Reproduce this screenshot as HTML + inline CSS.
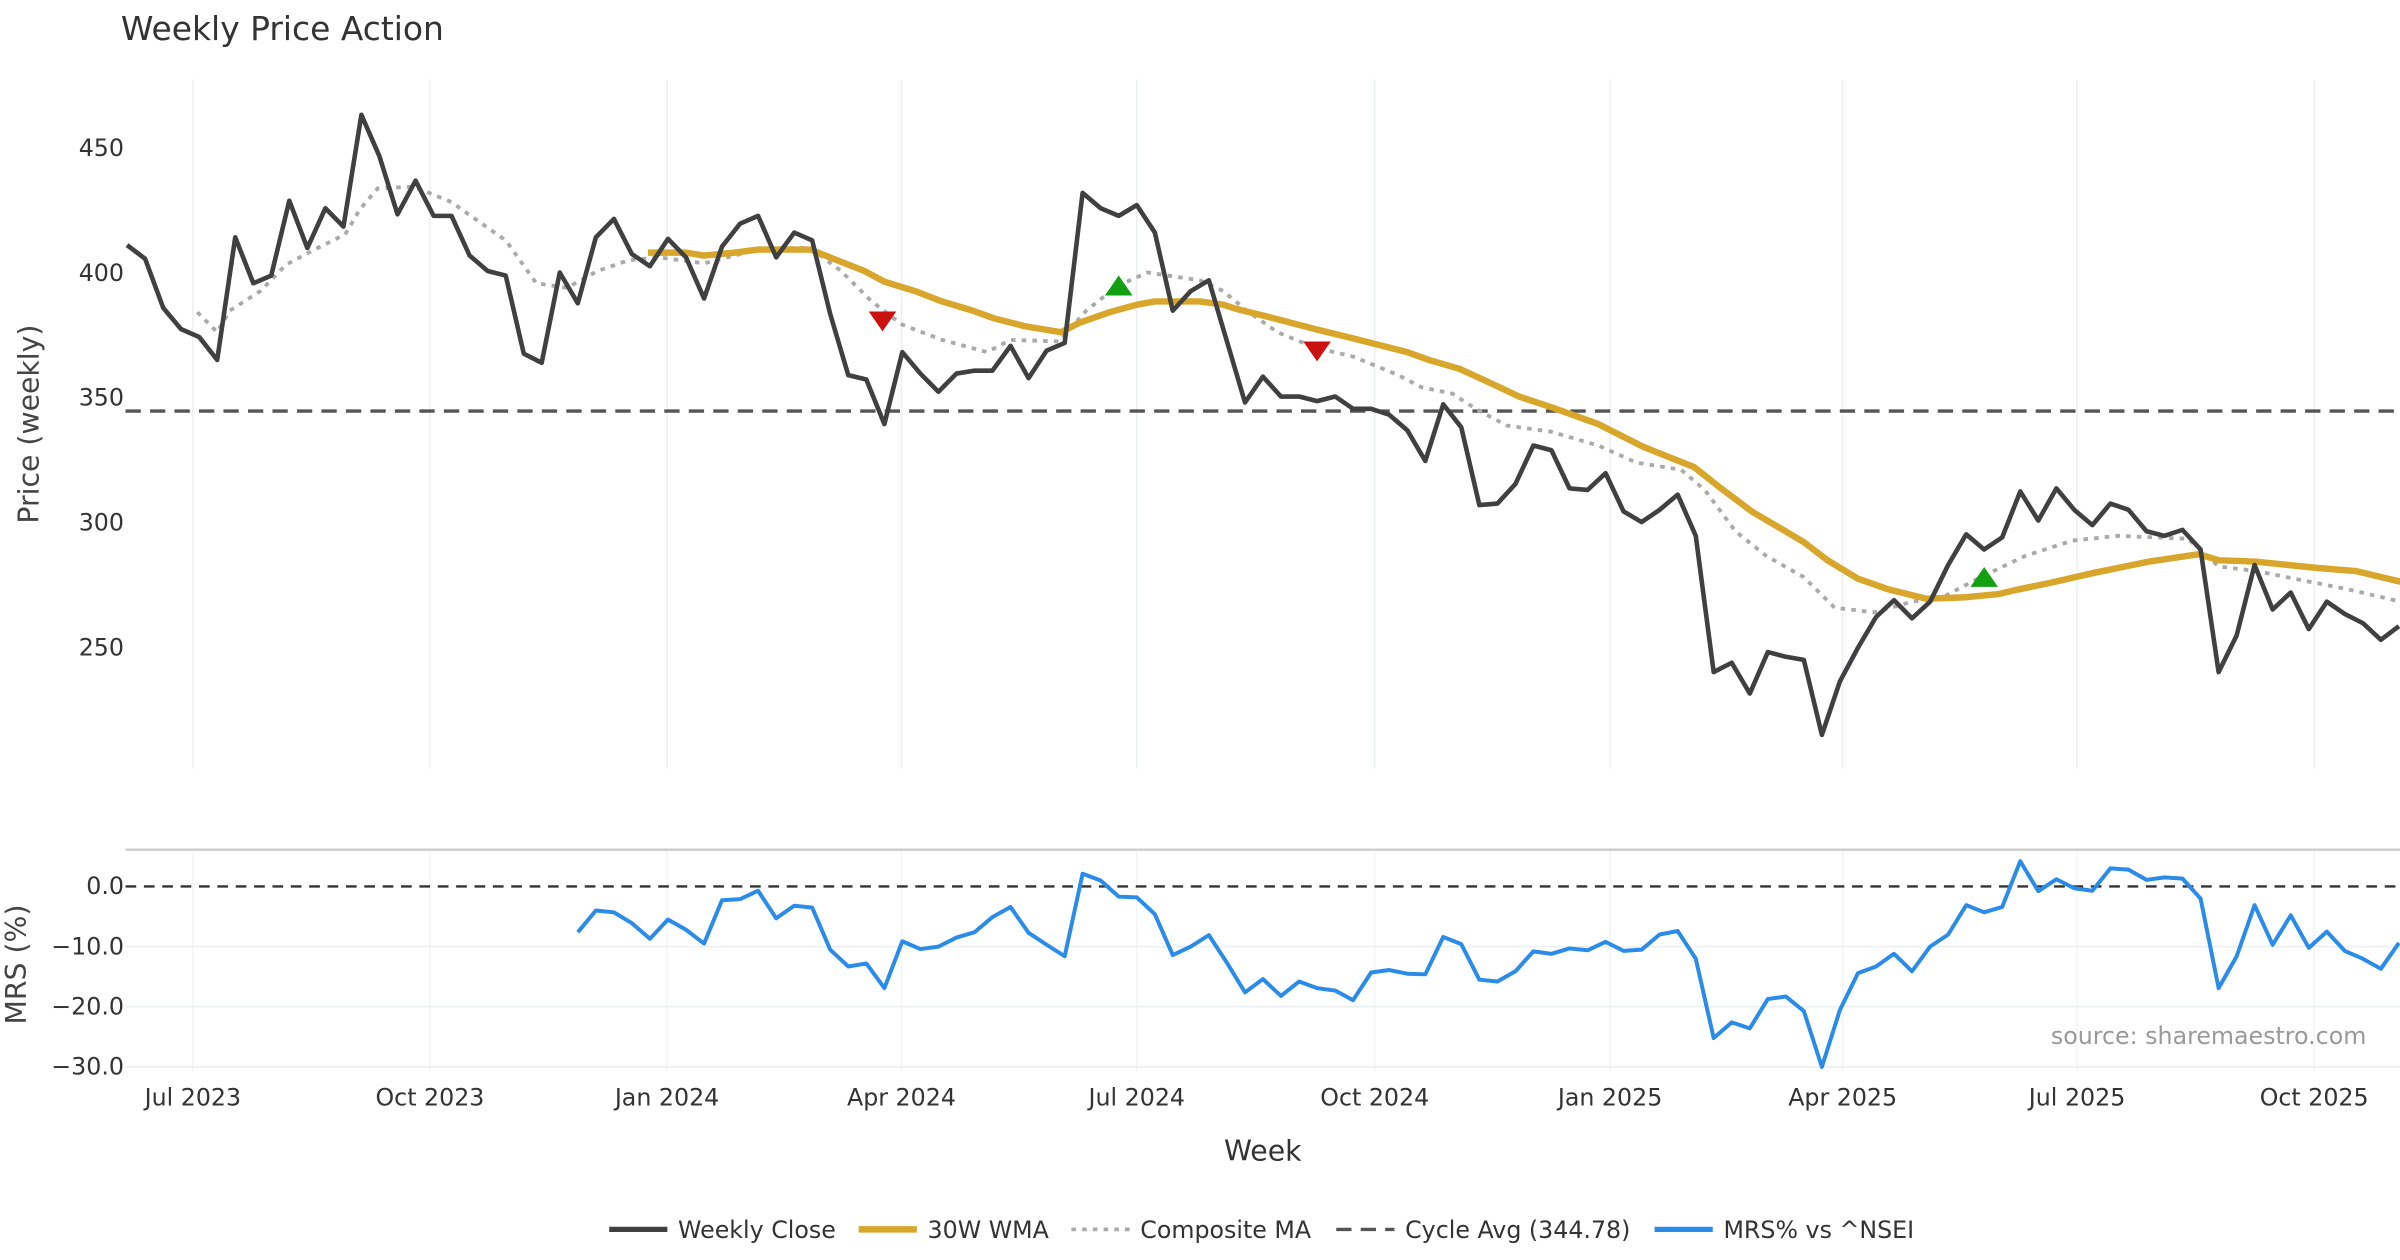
<!DOCTYPE html>
<html><head><meta charset="utf-8"><style>
html,body{margin:0;padding:0;background:#fff;}
svg{display:block;font-family:"DejaVu Sans","Liberation Sans",sans-serif;}
</style></head><body>
<svg id="chart" width="2400" height="1260" viewBox="0 0 1568 823" preserveAspectRatio="none" xmlns="http://www.w3.org/2000/svg">
<text x="79" y="26" font-size="21.5" fill="#333">Weekly Price Action</text>
<g id="grid"></g>
<g id="series"></g>
<text transform="translate(25,277) rotate(-90)" text-anchor="middle" font-size="18.5" fill="#444">Price (weekly)</text>
<text transform="translate(17,630) rotate(-90)" text-anchor="middle" font-size="18.5" fill="#444">MRS (%)</text>
<text x="825" y="758" text-anchor="middle" font-size="18.5" fill="#333">Week</text>
<text x="1546" y="682" text-anchor="end" font-size="15.5" fill="#999">source: sharemaestro.com</text>
<g id="legend"></g>
</svg>
<script>
// ---- data ----
const xTickLabels = ["Jul 2023","Oct 2023","Jan 2024","Apr 2024","Jul 2024","Oct 2024","Jan 2025","Apr 2025","Jul 2025","Oct 2025"];
const xTickWeeks = [3.65,16.8,29.95,42.95,56.0,69.2,82.25,95.15,108.15,121.3];
const priceTicks = [250,300,350,400,450];
const mrsTicks = [0,-10,-20,-30];
const cycleAvg = 344.78;
const weeklyClose = [411.3,405.8,386.2,377.6,374.5,365.3,414.4,396,399.1,429.1,410.1,426.1,418.7,463.5,446.9,423.6,437.1,423,423,407.1,400.9,399.1,367.8,364.1,400.3,388,414.4,421.8,407.7,402.8,413.8,406.4,389.9,410.7,419.9,423,406.4,416.3,413.2,383.7,359.2,357.4,339.6,368.4,359.8,352.5,359.8,361,361,370.9,358,369,372.1,432.2,426.1,423,427.3,416.3,385,392.9,397.2,372.7,348.2,358.6,350.6,350.6,348.8,350.6,345.7,345.7,343.3,337.1,324.8,347.5,338.3,307.1,307.7,315.6,331,329.1,313.8,313.2,319.9,304.6,300.3,305.2,311.3,294.8,240.2,243.9,231.6,248.2,246.3,245.1,215,236.5,250,262.3,269,261.7,268.4,283.1,295.4,289.3,294.2,312.6,300.9,313.8,305.2,299.1,307.7,305.2,296.6,294.8,297.2,289.3,240.2,254.9,283.1,265.3,272.1,257.4,268.4,263.5,259.8,253.1,258.6];
const wmaWeeks = [28.9,31.0,32.0,33.7,35.0,37.9,39.6,40.9,42.0,43.7,45.2,46.9,48.1,49.8,51.8,52.8,54.5,56.0,57.0,59.5,60.8,61.6,63.3,65.9,68.0,71.0,72.2,73.9,75.6,77.2,79.0,81.6,84.1,86.9,88.4,90.1,93.0,94.3,96.0,97.7,99.8,102.0,103.8,104.9,106.6,109.2,112.1,114.9,116.0,118.1,121.5,123.6,126.1];
const wmaValues = [408.3,408.3,407.1,408.3,409.5,409.5,404.6,400.9,396.6,392.9,388.7,385.0,381.9,378.8,376.4,380.1,384.4,387.4,388.7,388.7,387.4,385.6,382.5,377.6,373.9,368.4,365.3,361.7,356.1,350.6,346.3,339.6,330.4,322.4,313.8,304.6,292.3,285.0,277.6,273.3,269.6,270.2,271.5,273.3,275.8,280.1,284.4,287.4,285.0,284.4,281.9,280.7,276.4];
const compWeeks = [3.9,5.0,5.7,7.4,8.8,10.4,12.1,12.9,13.9,15.9,18.0,19.3,21.0,22.7,24.4,26.1,27.8,29.5,32.0,33.7,35.4,37.9,39.6,41.3,43.0,45.2,47.7,49.0,51.7,53.2,54.9,56.6,59.5,60.8,62.1,63.8,65.9,68.0,70.5,71.8,73.5,74.8,76.5,79.0,81.6,83.7,86.2,87.5,89.2,90.9,93.0,94.7,96.9,99.0,100.7,102.8,105.3,107.9,110.4,114.3,116.0,118.1,120.2,123.2,126.1];
const compValues = [384.4,376.4,385.0,392.9,403.4,409.5,415.6,425.5,434.0,434.7,428.5,421.8,413.2,396.0,394.2,400.9,405.2,406.4,404.0,407.1,410.1,410.1,400.9,388.7,379.4,373.3,368.4,373.3,372.7,385.0,394.8,400.3,397.2,392.9,385.0,376.4,370.2,366.6,359.2,354.3,351.8,345.7,339.0,336.5,331.0,324.2,321.2,313.2,296.6,286.8,278.2,266.0,264.1,268.4,270.2,278.2,286.8,292.9,294.8,293.6,282.5,280.7,277.6,273.3,268.4];
const sellWeeks = [41.9,66.0];
const sellValues = [381,369];
const buyWeeks = [55.0,103.0];
const buyValues = [394.8,278];
const mrsStart = 25;
const mrsValues = [-7.6,-4.0,-4.3,-6.1,-8.7,-5.5,-7.2,-9.5,-2.3,-2.1,-0.7,-5.3,-3.2,-3.5,-10.5,-13.3,-12.8,-16.9,-9.1,-10.4,-10.0,-8.5,-7.6,-5.1,-3.4,-7.7,-9.7,-11.6,2.1,1.0,-1.7,-1.8,-4.6,-11.4,-10.0,-8.1,-12.7,-17.6,-15.4,-18.2,-15.8,-16.9,-17.3,-18.9,-14.3,-13.9,-14.5,-14.6,-8.4,-9.6,-15.5,-15.8,-14.1,-10.8,-11.2,-10.3,-10.6,-9.2,-10.7,-10.5,-8.0,-7.4,-12.0,-25.2,-22.6,-23.6,-18.7,-18.3,-20.7,-30.0,-20.5,-14.4,-13.3,-11.2,-14.1,-10.0,-8.0,-3.1,-4.3,-3.4,4.2,-0.8,1.2,-0.3,-0.7,3.0,2.8,1.1,1.5,1.3,-2.0,-16.9,-11.6,-3.1,-9.7,-4.8,-10.2,-7.5,-10.7,-12.0,-13.7,-9.4];

// ---- axes ----
const NS = "http://www.w3.org/2000/svg";
const X0 = 83, XSTEP = 11.78;
const xw = w => X0 + w * XSTEP;
const yp = v => 97 + (450 - v) * 1.63;
const ym = v => 579 - v * 3.93;
function mk(tag, attrs, parent) {
  const e = document.createElementNS(NS, tag);
  for (const k in attrs) e.setAttribute(k, attrs[k]);
  parent.appendChild(e);
  return e;
}
const grid = document.getElementById('grid');
const series = document.getElementById('series');

xTickWeeks.forEach((w, i) => {
  const g1 = mk('line', {x1: xw(w), x2: xw(w), y1: 52, y2: 502, stroke: '#eceff2', 'stroke-width': 1}, grid);
  
  
  const g2 = mk('line', {x1: xw(w), x2: xw(w), y1: 556, y2: 700, stroke: '#f3f5f7', 'stroke-width': 1}, grid);
  
  
  const t = mk('text', {x: xw(w), y: 722, 'text-anchor': 'middle', 'font-size': 15.5, fill: '#333'}, grid);
  t.textContent = xTickLabels[i];
  
  
});
priceTicks.forEach(v => {
  const t = mk('text', {x: 81, y: yp(v) + 5, 'text-anchor': 'end', 'font-size': 15.5, fill: '#333'}, grid);
  t.textContent = v;
  
  
});
mrsTicks.forEach(v => {
  if (v !== 0) {
    const l = mk('line', {x1: 82, x2: 1568, y1: ym(v), y2: ym(v), stroke: '#eceff2', 'stroke-width': 1}, grid);
    
    
  }
  const t = mk('text', {x: 81, y: ym(v) + 5, 'text-anchor': 'end', 'font-size': 15.5, fill: '#333'}, grid);
  t.textContent = v === 0 ? '0.0' : '\u2212' + Math.abs(v).toFixed(1);
  
  
});
const sep = mk('line', {x1: 82, x2: 1568, y1: 555, y2: 555, stroke: '#cccccc', 'stroke-width': 1.5}, grid);



// cycle avg
const ca = mk('line', {x1: 82, x2: 1568, y1: yp(cycleAvg), y2: yp(cycleAvg), stroke: '#555', 'stroke-width': 2.2, 'stroke-dasharray': '10 6'}, series);


const zl = mk('line', {x1: 82, x2: 1568, y1: ym(0), y2: ym(0), stroke: '#333', 'stroke-width': 1.5, 'stroke-dasharray': '7 5'}, series);



function pts(ws, vs, f) { return ws.map((w, i) => xw(w).toFixed(1) + ',' + f(vs[i]).toFixed(1)).join(' '); }
const comp = mk('polyline', {points: pts(compWeeks, compValues, yp), fill: 'none', stroke: '#aaaaaa', 'stroke-width': 2.5, 'stroke-dasharray': '3 4'}, series);


const wma = mk('polyline', {points: pts(wmaWeeks, wmaValues, yp), fill: 'none', stroke: '#d8a62a', 'stroke-width': 4.2, 'stroke-linejoin': 'round'}, series);


const closeWeeks = weeklyClose.map((_, i) => i);
const cl = mk('polyline', {points: pts(closeWeeks, weeklyClose, yp), fill: 'none', stroke: '#404040', 'stroke-width': 3, 'stroke-linejoin': 'round'}, series);


const mrsWeeks = mrsValues.map((_, i) => mrsStart + i);
const mr = mk('polyline', {points: pts(mrsWeeks, mrsValues, ym), fill: 'none', stroke: '#2a8ce8', 'stroke-width': 2.6, 'stroke-linejoin': 'round'}, series);



sellWeeks.forEach((w, i) => {
  const x = xw(w), y = yp(sellValues[i]);
  const p = mk('polygon', {points: `${x-9},${y-6} ${x+9},${y-6} ${x},${y+7}`, fill: '#cc1111'}, series);
  
  
});
buyWeeks.forEach((w, i) => {
  const x = xw(w), y = yp(buyValues[i]);
  const p = mk('polygon', {points: `${x-9},${y+6} ${x+9},${y+6} ${x},${y-7}`, fill: '#11a011'}, series);
  
  
});

// legend
const legend = document.getElementById('legend');
const legItems = [
  {x: 398, label: 'Weekly Close', stroke: '#404040', w: 3.5, dash: null, name: 'legend-weekly-close'},
  {x: 561, label: '30W WMA', stroke: '#d8a62a', w: 4.2, dash: null, name: 'legend-30w-wma'},
  {x: 700, label: 'Composite MA', stroke: '#aaaaaa', w: 2.5, dash: '3 4', name: 'legend-composite-ma'},
  {x: 873, label: 'Cycle Avg (344.78)', stroke: '#555', w: 2.2, dash: '10 6', name: 'legend-cycle-avg'},
  {x: 1081, label: 'MRS% vs ^NSEI', stroke: '#2a8ce8', w: 3.5, dash: null, name: 'legend-mrs'}
];
legItems.forEach(it => {
  const g = mk('g', {}, legend);
  
  
  const a = {x1: it.x, x2: it.x + 38, y1: 803, y2: 803, stroke: it.stroke, 'stroke-width': it.w};
  if (it.dash) a['stroke-dasharray'] = it.dash;
  mk('line', a, g);
  const t = mk('text', {x: it.x + 45, y: 808.5, 'font-size': 15.5, fill: '#333'}, g);
  t.textContent = it.label;
});
</script>
</body></html>
